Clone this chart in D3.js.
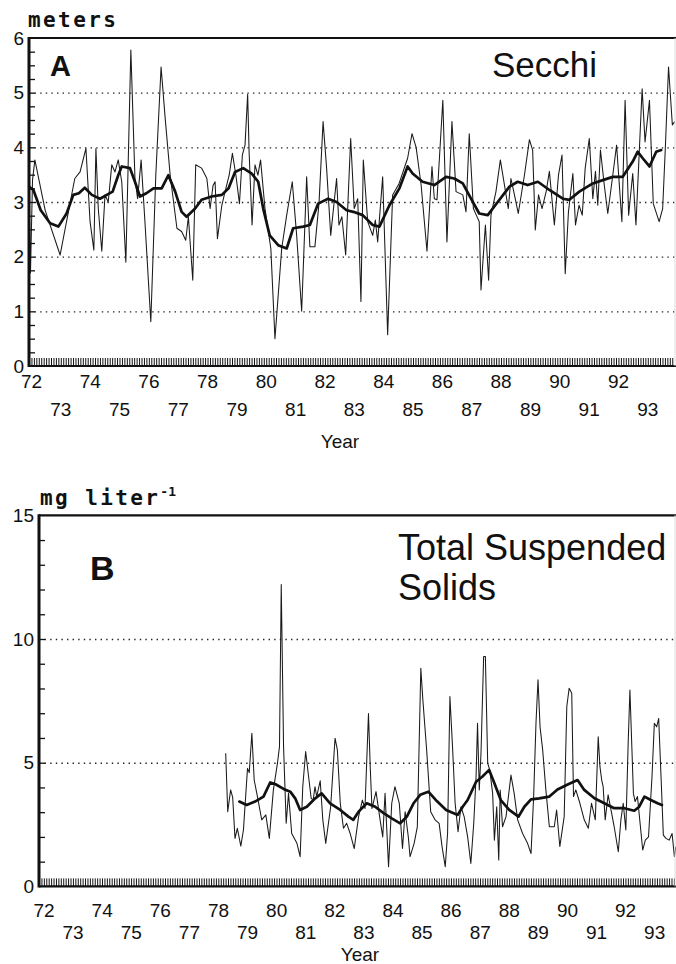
<!DOCTYPE html>
<html>
<head>
<meta charset="utf-8">
<script src="https://cdn.jsdelivr.net/npm/d3@7"></script>
<style>
  html, body { margin: 0; padding: 0; background: #fff; }
  svg { display: block; }
  .tick text { font-family: "Liberation Sans", Arial, sans-serif; font-size: 19px; fill: #111; }
  .domain { display: none; }
</style>
</head>
<body>
<svg id="chart" width="676" height="964"></svg>
<script>
// ---- Panel A: Secchi depth (meters), monthly observations ----
const secchiYears = [1972.00,1972.05,1972.12,1972.20,1972.55,1973.06,1973.56,1973.74,1973.94,1974.08,1974.21,1974.28,1974.36,1974.48,1974.59,1974.70,1974.82,1974.93,1975.04,1975.16,1975.30,1975.47,1975.61,1975.70,1975.82,1975.95,1976.15,1976.32,1976.50,1976.64,1976.81,1977.04,1977.20,1977.34,1977.43,1977.58,1977.68,1977.88,1978.06,1978.17,1978.27,1978.34,1978.42,1978.57,1978.68,1978.82,1978.93,1979.05,1979.17,1979.27,1979.36,1979.45,1979.50,1979.60,1979.70,1979.80,1979.89,1980.04,1980.24,1980.38,1980.61,1980.78,1980.97,1981.12,1981.29,1981.46,1981.57,1981.74,1981.88,1982.02,1982.14,1982.28,1982.48,1982.56,1982.66,1982.79,1982.96,1983.08,1983.20,1983.31,1983.39,1983.54,1983.71,1983.80,1983.88,1984.05,1984.22,1984.39,1984.61,1984.90,1985.05,1985.19,1985.36,1985.56,1985.73,1985.81,1985.90,1986.10,1986.24,1986.41,1986.55,1986.78,1986.89,1987.00,1987.14,1987.24,1987.34,1987.40,1987.55,1987.66,1987.74,1987.91,1988.06,1988.20,1988.33,1988.42,1988.54,1988.67,1988.88,1989.05,1989.16,1989.25,1989.36,1989.48,1989.62,1989.73,1989.90,1990.04,1990.16,1990.27,1990.38,1990.53,1990.62,1990.74,1990.85,1990.95,1991.09,1991.21,1991.30,1991.38,1991.47,1991.60,1991.72,1991.89,1992.02,1992.20,1992.31,1992.43,1992.57,1992.68,1992.89,1992.99,1993.14,1993.27,1993.47,1993.59,1993.68,1993.79,1993.92,1994.00];
const secchiMeters = [3.30,1.70,3.40,3.77,2.85,2.03,3.43,3.55,3.98,2.64,2.12,3.98,2.88,2.10,3.13,3.00,3.68,3.55,3.77,3.37,1.90,5.78,3.43,3.06,3.77,2.64,0.81,3.49,5.47,4.53,3.49,2.52,2.46,2.30,2.73,1.57,3.68,3.62,3.43,2.88,3.30,3.37,2.33,2.94,3.19,3.49,3.89,3.49,2.97,3.86,4.04,4.97,3.90,2.58,3.68,3.49,3.77,2.88,2.15,0.50,2.15,2.76,3.37,2.39,1.00,3.46,2.18,2.18,2.97,4.47,3.62,2.39,3.43,2.58,2.73,2.03,4.16,2.88,3.06,1.18,3.77,2.64,2.39,2.67,2.27,3.46,0.57,3.13,3.34,3.80,4.25,4.00,3.31,2.10,3.65,3.06,3.04,4.86,2.27,4.47,3.19,3.13,2.82,4.25,2.88,2.76,2.64,1.39,2.58,1.57,2.76,3.19,3.77,3.31,2.88,3.43,3.13,2.79,3.49,4.14,3.95,2.49,3.13,2.88,3.19,3.56,2.58,3.49,3.86,1.69,2.82,3.52,2.58,2.94,2.76,3.62,4.16,3.06,3.56,2.94,3.95,3.31,2.79,3.49,4.04,2.64,4.86,2.76,3.52,2.58,5.07,4.10,4.86,2.97,2.64,2.88,3.98,5.47,4.41,4.47];

// 12-month running mean of Secchi depth
const secchiMeanYears = [1972.00,1972.15,1972.40,1972.72,1973.00,1973.28,1973.51,1973.70,1973.90,1974.14,1974.42,1974.65,1974.85,1975.04,1975.16,1975.44,1975.61,1975.78,1976.00,1976.24,1976.52,1976.75,1976.98,1977.20,1977.37,1977.66,1977.88,1978.22,1978.57,1978.80,1979.02,1979.30,1979.59,1979.81,1979.98,1980.20,1980.49,1980.78,1981.00,1981.34,1981.57,1981.85,1982.19,1982.48,1982.82,1983.05,1983.37,1983.71,1983.94,1984.28,1984.62,1984.90,1985.07,1985.41,1985.81,1986.21,1986.49,1986.78,1987.06,1987.34,1987.63,1987.97,1988.37,1988.65,1988.99,1989.34,1989.73,1990.19,1990.41,1990.75,1991.21,1991.55,1991.89,1992.23,1992.57,1992.74,1992.91,1993.14,1993.37,1993.54];
const secchiMean = [3.28,3.22,2.85,2.61,2.55,2.79,3.13,3.16,3.26,3.13,3.06,3.13,3.19,3.49,3.65,3.62,3.37,3.10,3.16,3.25,3.25,3.49,3.19,2.82,2.73,2.88,3.04,3.10,3.13,3.25,3.55,3.62,3.52,3.37,2.88,2.39,2.21,2.15,2.52,2.55,2.58,2.97,3.06,3.00,2.85,2.82,2.76,2.58,2.55,2.94,3.25,3.65,3.52,3.37,3.31,3.46,3.43,3.34,3.06,2.79,2.76,3.00,3.28,3.37,3.31,3.37,3.22,3.06,3.04,3.19,3.34,3.40,3.46,3.46,3.74,3.92,3.80,3.65,3.92,3.95];

// ---- Panel B: total suspended solids (mg/L) ----
const tssYears = [1978.42,1978.49,1978.59,1978.66,1978.74,1978.82,1978.94,1979.03,1979.17,1979.23,1979.32,1979.40,1979.49,1979.66,1979.80,1979.92,1980.06,1980.20,1980.27,1980.33,1980.41,1980.50,1980.58,1980.69,1980.87,1980.98,1981.07,1981.17,1981.27,1981.36,1981.43,1981.49,1981.55,1981.67,1981.76,1981.86,1982.03,1982.18,1982.26,1982.36,1982.47,1982.58,1982.70,1982.84,1982.99,1983.12,1983.21,1983.33,1983.39,1983.45,1983.59,1983.73,1983.82,1983.90,1984.02,1984.13,1984.24,1984.39,1984.50,1984.59,1984.70,1984.76,1984.90,1985.01,1985.13,1985.20,1985.33,1985.47,1985.62,1985.76,1985.86,1985.97,1986.05,1986.13,1986.22,1986.31,1986.41,1986.51,1986.62,1986.74,1986.85,1986.95,1987.03,1987.08,1987.14,1987.20,1987.29,1987.35,1987.43,1987.50,1987.60,1987.66,1987.74,1987.81,1987.86,1987.94,1988.06,1988.23,1988.34,1988.46,1988.63,1988.80,1988.92,1989.01,1989.09,1989.16,1989.23,1989.32,1989.43,1989.55,1989.72,1989.80,1989.91,1990.06,1990.15,1990.23,1990.32,1990.38,1990.46,1990.60,1990.75,1990.89,1991.00,1991.13,1991.23,1991.29,1991.35,1991.40,1991.47,1991.57,1991.67,1991.78,1991.92,1992.01,1992.09,1992.18,1992.26,1992.32,1992.39,1992.44,1992.50,1992.58,1992.67,1992.76,1992.85,1992.96,1993.08,1993.16,1993.24,1993.31,1993.39,1993.47,1993.56,1993.67,1993.77,1993.85,1993.90];
const tssValues = [5.38,3.02,3.90,3.60,1.94,2.35,1.63,2.28,4.77,4.60,6.19,4.30,3.76,2.69,2.89,1.94,3.90,4.98,5.65,12.2,5.65,2.55,3.76,2.14,1.74,1.20,4.03,5.45,4.44,3.56,3.50,4.03,3.63,4.27,2.69,1.74,3.22,5.99,5.52,3.36,2.35,2.55,2.14,1.53,2.82,3.49,3.15,6.99,4.84,3.15,3.83,2.69,2.00,3.76,0.80,3.36,4.03,3.36,1.53,3.02,2.00,1.20,1.74,2.41,8.82,7.54,5.52,3.02,2.69,2.55,1.61,0.80,2.14,7.67,5.65,3.36,2.21,3.22,2.82,2.00,0.93,2.55,4.44,6.59,3.90,5.40,9.29,9.29,4.98,4.70,3.76,1.87,3.22,1.07,3.90,2.41,2.82,4.50,3.76,2.69,2.14,1.74,1.33,3.63,6.59,8.35,6.45,5.52,3.90,2.41,2.41,3.09,1.61,2.82,7.27,8.01,7.81,3.63,3.90,3.36,2.69,2.35,3.36,2.69,6.05,4.84,4.30,4.03,2.69,3.70,3.09,2.41,1.40,2.69,3.36,2.28,5.78,7.94,5.52,3.76,3.43,3.63,2.55,1.47,1.87,2.00,4.44,6.59,6.45,6.79,4.44,2.07,1.94,1.87,2.14,1.20,1.61];

// 12-month running mean of TSS
const tssMeanYears = [1978.89,1979.14,1979.43,1979.72,1979.95,1980.12,1980.41,1980.64,1980.81,1980.98,1981.21,1981.50,1981.72,1982.01,1982.36,1982.64,1982.81,1982.99,1983.27,1983.56,1983.85,1984.13,1984.42,1984.65,1984.88,1985.11,1985.39,1985.68,1986.00,1986.40,1986.57,1986.74,1987.03,1987.25,1987.48,1987.66,1987.88,1988.17,1988.49,1988.69,1988.92,1989.20,1989.55,1989.83,1990.18,1990.52,1990.75,1991.10,1991.44,1991.78,1992.13,1992.47,1992.64,1992.82,1993.04,1993.27,1993.42];
const tssMean = [3.43,3.29,3.43,3.63,4.20,4.14,3.94,3.83,3.56,3.09,3.22,3.56,3.76,3.36,3.09,2.82,2.69,3.02,3.36,3.22,2.96,2.75,2.55,2.82,3.36,3.70,3.83,3.45,3.09,2.89,3.22,3.49,4.23,4.44,4.71,4.17,3.49,3.09,2.82,3.22,3.52,3.56,3.63,3.92,4.12,4.30,3.90,3.56,3.36,3.16,3.16,3.06,3.22,3.63,3.49,3.36,3.29];

// ---- Axis labels ----
const yearLabelsUpper = [72, 74, 76, 78, 80, 82, 84, 86, 88, 90, 92];
const yearLabelsLower = [73, 75, 77, 79, 81, 83, 85, 87, 89, 91, 93];
const secchiTicks = [0, 1, 2, 3, 4, 5, 6];
const secchiGrid = [1, 2, 3, 4, 5];
const tssTicks = [0, 5, 10, 15];
const tssGrid = [5, 10];

const W = 676;
const svg = d3.select("#chart");
const zip = (xs, ys) => xs.map((v, i) => [v, ys[i]]);

function drawPanel(cfg) {
  const g = svg.append("g");
  const x = d3.scaleLinear().domain([1972, 1994]).range([cfg.left, cfg.left + 22 * cfg.pxPerYear]);
  const y = d3.scaleLinear().domain([0, cfg.ymax]).range([cfg.y0, cfg.yTop]);

  const clipId = "clip-" + cfg.id;
  svg.append("clipPath").attr("id", clipId)
    .append("rect").attr("x", cfg.left).attr("y", cfg.yTop - 2)
    .attr("width", W - cfg.left).attr("height", cfg.y0 - cfg.yTop + 2);

  // dotted horizontal gridlines
  g.append("g").attr("transform", `translate(${cfg.left},0)`)
    .call(d3.axisLeft(y).tickValues(cfg.grid).tickSize(-(W - cfg.left)).tickFormat(""))
    .call(s => s.selectAll(".tick line")
      .attr("stroke", "#222").attr("stroke-width", 1.4)
      .attr("stroke-dasharray", "1.4,4.2"));

  // monthly hatch along the baseline
  const months = d3.range(1972, 1994, 1 / 12);
  g.append("g").attr("transform", `translate(0,${cfg.y0})`)
    .call(d3.axisTop(x).tickValues(months).tickSize(8).tickFormat(""))
    .call(s => s.selectAll(".tick line").attr("stroke", "#111").attr("stroke-width", 1));

  const line = d3.line().x(d => x(d[0])).y(d => y(d[1]));
  const plot = g.append("g").attr("clip-path", `url(#${clipId})`);
  plot.append("path").datum(zip(cfg.years, cfg.values))
    .attr("d", line).attr("fill", "none").attr("stroke", "#1a1a1a")
    .attr("stroke-width", 1.05).attr("stroke-linejoin", "round");
  plot.append("path").datum(zip(cfg.meanYears, cfg.mean))
    .attr("d", line).attr("fill", "none").attr("stroke", "#111")
    .attr("stroke-width", 2.7).attr("stroke-linejoin", "round").attr("stroke-linecap", "round");

  // frame: baseline, top rule, left axis, faint right edge
  g.append("line").attr("x1", cfg.left).attr("x2", W).attr("y1", cfg.y0).attr("y2", cfg.y0)
    .attr("stroke", "#111").attr("stroke-width", 2.2);
  g.append("line").attr("x1", cfg.left).attr("x2", W).attr("y1", cfg.yTop).attr("y2", cfg.yTop)
    .attr("stroke", "#111").attr("stroke-width", 2.2);
  g.append("line").attr("x1", cfg.left).attr("x2", cfg.left).attr("y1", cfg.yTop - 1).attr("y2", cfg.y0 + 1)
    .attr("stroke", "#111").attr("stroke-width", 3);
  g.append("line").attr("x1", W - 1).attr("x2", W - 1).attr("y1", cfg.yTop).attr("y2", cfg.y0)
    .attr("stroke", "#ddd").attr("stroke-width", 1);

  // inward minor ticks on the value axis
  g.append("g").attr("transform", `translate(${cfg.left},0)`)
    .call(d3.axisRight(y).tickValues(cfg.minor).tickSize(6).tickFormat(""))
    .call(s => s.selectAll(".tick line").attr("stroke", "#111").attr("stroke-width", 1.3));

  // value labels
  g.append("g").attr("transform", `translate(${cfg.left - 1},0)`)
    .call(d3.axisLeft(y).tickValues(cfg.ticks).tickSize(0).tickPadding(4).tickFormat(d3.format("d")));

  // two staggered rows of year labels
  const yr = v => 1900 + v;
  g.append("g").attr("transform", `translate(0,${cfg.y0})`)
    .call(d3.axisBottom(x).tickValues(yearLabelsUpper.map(yr)).tickSize(0)
      .tickPadding(cfg.row1Pad).tickFormat(d => String(d - 1900)))
    .call(s => s.selectAll("text").attr("dx", cfg.labelDx));
  g.append("g").attr("transform", `translate(0,${cfg.y0})`)
    .call(d3.axisBottom(x).tickValues(yearLabelsLower.map(yr)).tickSize(0)
      .tickPadding(cfg.row2Pad).tickFormat(d => String(d - 1900)))
    .call(s => s.selectAll("text").attr("dx", cfg.labelDx));

  g.append("text").attr("x", cfg.yearX).attr("y", cfg.yearY)
    .attr("text-anchor", "middle")
    .style("font-family", "Liberation Sans, Arial, sans-serif").style("font-size", "19px")
    .attr("fill", "#111").text("Year");
}

drawPanel({
  id: "a", left: 29, pxPerYear: 29.35, ymax: 6, y0: 366, yTop: 38,
  years: secchiYears, values: secchiMeters, meanYears: secchiMeanYears, mean: secchiMean,
  grid: secchiGrid, ticks: secchiTicks, minor: d3.range(0.25, 6, 0.25),
  row1Pad: 9, row2Pad: 37, labelDx: 2, yearX: 340, yearY: 448
});

drawPanel({
  id: "b", left: 39, pxPerYear: 29.08, ymax: 15, y0: 886.4, yTop: 515.3,
  years: tssYears, values: tssValues, meanYears: tssMeanYears, mean: tssMean,
  grid: tssGrid, ticks: tssTicks, minor: d3.range(1, 15, 1),
  row1Pad: 17, row2Pad: 39, labelDx: 4.5, yearX: 360, yearY: 961
});

// unit captions and panel titles
const mono = "DejaVu Sans Mono, monospace";
const sans = "Liberation Sans, Arial, sans-serif";
svg.append("text").attr("x", 28).attr("y", 27)
  .style("font-family", mono).style("font-weight", "bold").style("font-size", "21px")
  .style("letter-spacing", "2.4px").attr("fill", "#111").text("meters");

const unitB = svg.append("text").attr("x", 40).attr("y", 505)
  .style("font-family", mono).style("font-weight", "bold").style("font-size", "21px")
  .style("letter-spacing", "2.4px").attr("fill", "#111");
unitB.append("tspan").text("mg liter");
unitB.append("tspan").attr("dy", -9).style("font-size", "13px").style("letter-spacing", "0px").text("-1");

svg.append("text").attr("x", 50).attr("y", 76)
  .style("font-family", sans).style("font-weight", "bold").style("font-size", "29px")
  .attr("fill", "#111").text("A");
svg.append("text").attr("x", 90).attr("y", 580)
  .style("font-family", sans).style("font-weight", "bold").style("font-size", "34px")
  .attr("fill", "#111").text("B");

svg.append("text").attr("x", 492).attr("y", 77)
  .style("font-family", sans).style("font-size", "35px").attr("fill", "#111").text("Secchi");
const tss = svg.append("text").style("font-family", sans).style("font-size", "36px").attr("fill", "#111");
tss.append("tspan").attr("x", 398).attr("y", 560).text("Total Suspended");
tss.append("tspan").attr("x", 398).attr("y", 600).text("Solids");
</script>
</body>
</html>
